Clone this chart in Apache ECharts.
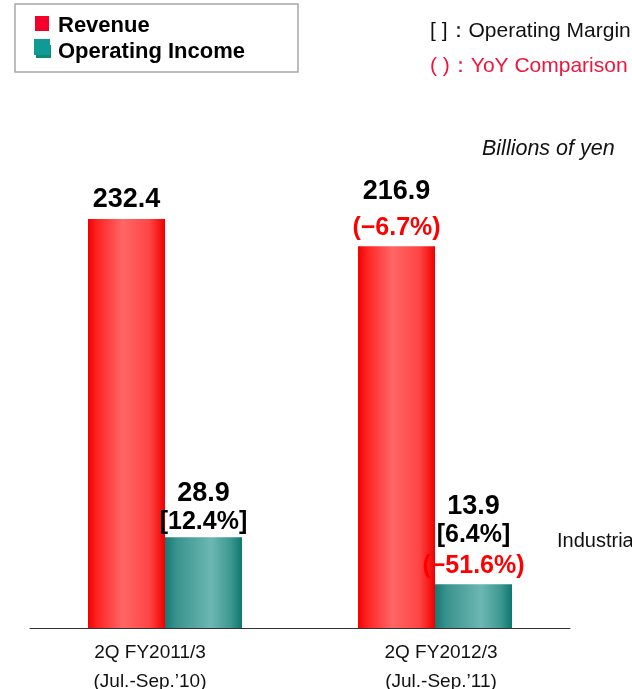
<!DOCTYPE html>
<html>
<head>
<meta charset="utf-8">
<script src="https://cdn.jsdelivr.net/npm/echarts@6/dist/echarts.min.js"></script>
<style>
  html, body { margin: 0; padding: 0; background: #fff; }
  #chart { width: 632px; height: 689px; }
</style>
</head>
<body>
<div id="chart"></div>
<script>
// chart data
const categories = ['2Q FY2011/3\n(Jul.-Sep.\u201910)', '2Q FY2012/3\n(Jul.-Sep.\u201911)'];
const revenue = [232.4, 216.9];
const revenueYoY = [null, -6.7];
const opIncome = [28.9, 13.9];
const opMargin = [12.4, 6.4];
const opYoY = [null, -51.6];

const numFont = '"Liberation Sans", Arial, sans-serif';
const txtFont = '"Liberation Sans", Arial, sans-serif';

function pct(v) {
  return (v < 0 ? '\u2212' : '') + Math.abs(v).toFixed(1) + '%';
}

const redGrad = new echarts.graphic.LinearGradient(0, 0, 1, 0, [
  {offset: 0, color: '#f20000'},
  {offset: 0.12, color: '#ff2424'},
  {offset: 0.45, color: '#ff6666'},
  {offset: 0.8, color: '#ff4444'},
  {offset: 1, color: '#f00000'}
]);
const tealGrad = new echarts.graphic.LinearGradient(0, 0, 1, 0, [
  {offset: 0, color: '#137a73'},
  {offset: 0.15, color: '#3a938d'},
  {offset: 0.6, color: '#6cb7b3'},
  {offset: 0.85, color: '#3f9891'},
  {offset: 1, color: '#0c7870'}
]);

const chart = echarts.init(document.getElementById('chart'));
chart.setOption({
  animation: false,
  grid: {left: 30, right: 62, top: 188, bottom: 61, containLabel: false, outerBoundsMode: 'none'},
  xAxis: {
    type: 'category',
    data: categories,
    axisLine: {lineStyle: {color: '#333', width: 1}},
    axisTick: {show: false},
    axisLabel: {
      interval: 0,
      margin: 10,
      // the two captions sit a little off their bar pairs
      formatter: (val, i) => val.split('\n').map(s => '{' + (i === 0 ? 'a' : 'b') + '|' + s + '}').join('\n'),
      rich: {
        a: {fontFamily: txtFont, fontSize: 19, color: '#111', lineHeight: 29, padding: [0, 30, 0, 0]},
        b: {fontFamily: txtFont, fontSize: 19, color: '#111', lineHeight: 29, padding: [0, 0, 0, 12]}
      }
    }
  },
  yAxis: [
    {type: 'value', min: 0, max: 250, show: false, splitLine: {show: false}},
    {type: 'value', min: 0, max: 140, show: false, splitLine: {show: false}}
  ],
  series: [
    {
      name: 'Revenue',
      type: 'bar',
      yAxisIndex: 0,
      barWidth: 77,
      barGap: '0%',
      data: revenue,
      itemStyle: {color: redGrad},
      label: {
        show: true,
        position: 'top',
        distance: 4,
        formatter: p => {
          const i = p.dataIndex;
          if (revenueYoY[i] != null) {
            return '{v2|' + revenue[i].toFixed(1) + '}\n{r|(' + pct(revenueYoY[i]) + ')}';
          }
          return '{v|' + revenue[i].toFixed(1) + '}';
        },
        rich: {
          v: {fontFamily: numFont, fontWeight: 'bold', fontSize: 27, color: '#000', lineHeight: 30},
          v2: {fontFamily: numFont, fontWeight: 'bold', fontSize: 27, color: '#000', lineHeight: 46},
          r: {fontFamily: numFont, fontWeight: 'bold', fontSize: 25, color: '#ff0000', lineHeight: 28}
        }
      }
    },
    {
      name: 'Operating Income',
      type: 'bar',
      yAxisIndex: 1,
      barWidth: 77,
      barGap: '0%',
      data: opIncome,
      itemStyle: {color: tealGrad},
      label: {
        show: true,
        position: 'top',
        distance: 1,
        formatter: p => {
          const i = p.dataIndex;
          let s = '{v|' + opIncome[i].toFixed(1) + '}\n{m|[' + pct(opMargin[i]) + ']}';
          if (opYoY[i] != null) s += '\n{r|(' + pct(opYoY[i]) + ')}';
          return s;
        },
        rich: {
          v: {fontFamily: numFont, fontWeight: 'bold', fontSize: 27, color: '#000', lineHeight: 28},
          m: {fontFamily: numFont, fontWeight: 'bold', fontSize: 25, color: '#000', lineHeight: 29},
          r: {fontFamily: numFont, fontWeight: 'bold', fontSize: 25, color: '#ff0000', lineHeight: 34}
        }
      }
    }
  ],
  graphic: [
    // legend box
    {type: 'rect', shape: {x: 15, y: 4, width: 283, height: 68},
      style: {fill: '#fff', stroke: '#a8a8a8', lineWidth: 1.5}},
    {type: 'rect', shape: {x: 35, y: 16, width: 14, height: 15}, style: {fill: '#f5002a'}},
    {type: 'rect', shape: {x: 36, y: 45, width: 15, height: 13}, style: {fill: '#0e8a6c'}},
    {type: 'rect', shape: {x: 34, y: 39, width: 16, height: 16}, style: {fill: '#0f9a95'}},
    {type: 'text', x: 58, y: 26, style: {text: 'Revenue', font: 'bold 22px ' + txtFont,
      fill: '#000', verticalAlign: 'middle'}},
    {type: 'text', x: 58, y: 52, style: {text: 'Operating Income', font: 'bold 22px ' + txtFont,
      fill: '#000', verticalAlign: 'middle'}},
    // notes
    {type: 'text', x: 430, y: 31, style: {text: '[ ]\uff1aOperating Margin', font: '21px ' + txtFont,
      fill: '#111', verticalAlign: 'middle'}},
    {type: 'text', x: 430, y: 66, style: {text: '( )\uff1aYoY Comparison', font: '21px ' + txtFont,
      fill: '#f0143c', verticalAlign: 'middle'}},
    {type: 'text', x: 482, y: 149, style: {text: 'Billions of yen', font: 'italic 21.5px ' + txtFont,
      fill: '#111', verticalAlign: 'middle'}},
    {type: 'text', x: 557, y: 541, style: {text: 'Industrial', font: '20px ' + txtFont,
      fill: '#111', verticalAlign: 'middle'}}
  ]
});
</script>
</body>
</html>
